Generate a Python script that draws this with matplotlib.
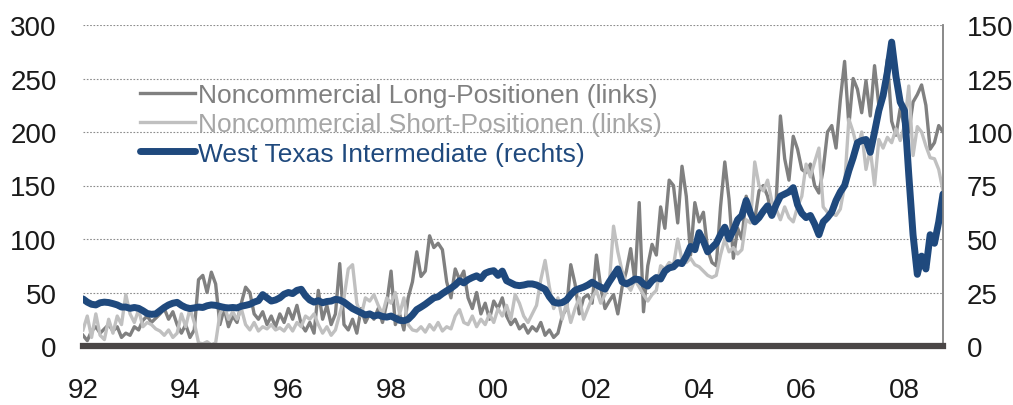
import numpy as np
import matplotlib.pyplot as plt

plt.rcParams["font.family"] = ["Liberation Sans", "DejaVu Sans"]

# monthly readings, first point at the "92" tick, last one at the right edge
long_pos = [10, 5, 14, 18, 12, 16, 20, 14, 18, 8, 12, 10,
            18, 15, 24, 28, 22, 26, 30, 35, 25, 32, 20, 12,
            20, 8, 15, 62, 66, 50, 69, 58, 20, 35, 18, 28,
            22, 40, 55, 50, 30, 25, 32, 20, 28, 18, 30, 22,
            35, 25, 38, 20, 14, 22, 12, 52, 25, 38, 20, 30,
            77, 20, 15, 25, 12, 35, 22, 30, 25, 35, 22, 40,
            70, 20, 30, 15, 45, 60, 88, 65, 70, 103, 92, 96,
            90, 60, 45, 72, 62, 70, 45, 35, 50, 30, 40, 25,
            42, 35, 45, 28, 20, 25, 16, 20, 12, 18, 14, 22,
            10, 15, 8, 12, 28, 35, 76, 58, 30, 45, 48, 40,
            85, 55, 35, 42, 48, 30, 55, 70, 91, 60, 134, 32,
            75, 95, 85, 130, 110, 155, 150, 115, 168, 140, 85, 134,
            116, 125, 90, 78, 75, 130, 172, 137, 82, 110, 100, 140,
            125, 118, 145, 150, 140, 122, 135, 215, 175, 155, 196, 184,
            165, 162, 170, 150, 143, 165, 200, 206, 185, 230, 266, 206,
            250, 240, 218, 248, 215, 262, 225, 234, 268, 210, 197, 222,
            205, 200, 228, 235, 244, 225, 184, 190, 206, 200]

short_pos = [15, 28, 8, 30, 10, 6, 25, 12, 28, 20, 48, 30,
             22, 34, 18, 22, 20, 16, 14, 10, 15, 8, 12, 30,
             18, 35, 22, 3, 2, 4, 1, 3, 30, 38, 25, 32,
             25, 35, 20, 15, 22, 14, 18, 16, 20, 15, 17, 14,
             20, 14, 22, 18, 28, 25, 30, 20, 12, 18, 10, 15,
             30, 45, 72, 76, 40, 28, 45, 42, 48, 38, 30, 45,
             40, 50, 30, 45, 20, 15, 14, 18, 13, 20, 15, 22,
             14, 18, 16, 28, 34, 22, 20, 28, 18, 25, 20, 30,
             22, 35, 28, 38, 25, 48, 40, 28, 22, 30, 38, 62,
             80, 55, 35, 45, 25, 40, 22, 35, 45, 25, 35, 45,
             52, 40, 48, 58, 112, 88, 70, 58, 52, 62, 55, 48,
             42, 48, 52, 75, 72, 78, 75, 100, 80, 78, 82, 76,
             74, 70, 66, 64, 66, 85, 100, 88, 92, 86, 90, 118,
             115, 172, 150, 145, 155, 135, 128, 118, 130, 120, 116, 130,
             140, 170, 158, 172, 185, 130, 125, 124, 122, 128, 150, 212,
             200, 184, 200, 165, 184, 150, 193, 185, 195, 190, 203, 192,
             206, 243, 178, 205, 200, 187, 176, 175, 165, 145]

wti = [22, 20.5, 19.5, 19.2, 20.2, 20.5, 20.3, 19.8, 19.2, 18.2, 18.2, 17.6,
       18.0, 17.6, 16.5, 15.2, 14.8, 15.0, 16.5, 18.0, 19.2, 20.0, 20.4, 19.0,
       18.0, 17.5, 17.8, 18.2, 18.0, 18.8, 19.2, 19.0, 18.5, 18.0, 17.8, 18.0,
       17.8, 18.6, 19.0, 19.5, 20.5, 21.2, 24.0, 22.5, 21.0, 21.5, 22.5, 24.2,
       25.0, 24.5, 26.0, 26.5, 23.5, 21.5, 20.5, 21.2, 20.2, 20.8, 21.0, 21.8,
       21.5, 20.5, 19.0, 17.5, 16.5, 15.5, 14.5, 15.0, 14.0, 14.5, 13.8, 13.5,
       14.0, 13.0, 12.0, 11.8, 12.5, 14.5, 17.0, 18.2, 19.5, 21.0, 22.5, 23.0,
       24.5, 25.8, 27.0, 28.5, 30.5, 29.5, 31.0, 32.0, 32.8, 31.5, 34.0, 34.8,
       35.2, 33.0, 35.0, 30.5, 29.5, 28.5, 28.2, 28.5, 29.0, 29.0, 28.5, 27.5,
       26.5, 23.0, 20.5, 20.0, 20.3, 21.5, 24.0, 26.0, 26.8, 27.5, 28.5, 29.8,
       28.5, 27.5, 26.6, 30.0, 33.0, 36.0, 30.0, 29.0, 30.0, 31.3, 31.0, 29.0,
       28.0, 30.5, 32.0, 31.3, 35.0, 36.5, 37.0, 39.0, 38.5, 42.0, 46.5, 45.0,
       53.0, 49.0, 44.0, 46.0, 48.0, 52.0, 55.5, 50.0, 54.0, 59.0, 61.0, 68.0,
       62.0, 58.0, 60.0, 63.0, 65.5, 61.0, 66.0, 70.0, 71.0, 72.0, 74.0, 66.0,
       62.0, 60.0, 61.0, 57.0, 52.0, 58.0, 60.0, 62.6, 68.0, 72.0, 75.0, 82.0,
       88.0, 95.0, 96.0, 96.5, 90.5, 100.0, 110.0, 117.0, 128.0, 142.0, 126.0, 114.0,
       110.0, 80.0, 52.0, 33.5, 42.0, 36.0, 52.0, 48.0, 58.0, 71.0]

labels = ["Noncommercial Long-Positionen (links)",
          "Noncommercial Short-Positionen (links)",
          "West Texas Intermediate (rechts)"]
xticks = ["92", "94", "96", "98", "00", "02", "04", "06", "08"]

x = 1992 + np.arange(len(wti)) / 12

fig = plt.figure(figsize=(10.13, 4.06), dpi=100)
ax = fig.add_axes([83/1013, 1-347/406, 860/1013, 321/406])
ax2 = ax.twinx()

l1, = ax.plot(x, long_pos, color="#808080", lw=2.4, solid_joinstyle="round")
l2, = ax.plot(x, short_pos, color="#c0c0c0", lw=2.4, solid_joinstyle="round")
l3, = ax2.plot(x, wti, color="#1f497d", lw=5, solid_joinstyle="round",
               solid_capstyle="round")

ax.set_xlim(x[0], x[-1])
ax.set_ylim(0, 300)
ax2.set_ylim(0, 150)
ax.set_yticks(range(0, 301, 50))
ax2.set_yticks(range(0, 151, 25))
ax.set_xticks(range(1992, 2009, 2))
ax.set_xticklabels(xticks)

for yv in range(50, 301, 50):
    ax.axhline(yv, color="#8c8c8c", lw=0.8, ls=(0, (1.5, 1.5)), zorder=0)

for a in (ax, ax2):
    for side in ("top", "left", "bottom", "right"):
        a.spines[side].set_visible(False)
ax2.spines["right"].set_visible(True)
ax2.spines["right"].set_color("#808080")
ax2.spines["right"].set_linewidth(1.3)
ax2.spines["bottom"].set_visible(True)
ax2.spines["bottom"].set_color("#4a4646")
ax2.spines["bottom"].set_linewidth(4.5)

ax.tick_params(axis="y", length=0, labelsize=20, pad=19, colors="#1a1a1a")
ax.tick_params(axis="x", length=0, labelsize=20, pad=22, colors="#1a1a1a")
ax2.tick_params(axis="y", length=0, labelsize=20, pad=17, colors="#1a1a1a")

leg = ax2.legend([l1, l2, l3], labels, loc="upper left",
                 bbox_to_anchor=(140/1013, 1-84/406), bbox_transform=fig.transFigure,
                 frameon=False, fontsize=19, handlelength=2.1, handletextpad=0.08,
                 labelspacing=0.2, borderpad=0, borderaxespad=0,
                 labelcolor=["#808080", "#a6a6a6", "#1f497d"])

plt.savefig("out.png", dpi=100)
